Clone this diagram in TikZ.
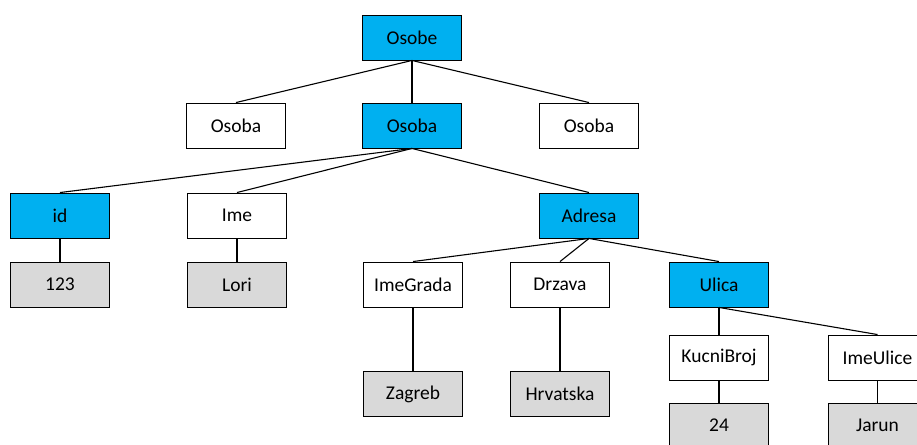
\documentclass[tikz,border=0pt]{standalone}
\usepackage{fontspec}
\setmainfont{Carlito}
\definecolor{plava}{HTML}{00B0F0}
\definecolor{siva}{HTML}{D9D9D9}

\begin{document}
\begin{tikzpicture}[x=1pt,y=-1pt,
	kutija/.style={draw,fill=white,minimum width=99pt,minimum height=45pt,inner sep=0pt,line width=0.9pt,font=\fontsize{19.5}{23}\selectfont},
	plavi/.style={kutija,fill=plava},
	sivi/.style={kutija,fill=siva},
	veza/.style={line width=1.1pt}]
			\clip (0,0) rectangle (917,444);
			%korijen
			\node[plavi] (osobe) at (412,37.5) {Osobe};
			\node[kutija] (osobaL) at (236,125.5) {Osoba};
			\node[plavi] (osobaM) at (412,125.5) {Osoba};
			\node[kutija] (osobaD) at (589,125.5) {Osoba};
			%elementi osobe
			\node[plavi] (id) at (60,215.5) {id};
			\node[kutija] (ime) at (237,215.5) {Ime};
			\node[plavi] (adresa) at (589,215.5) {Adresa};
			\node[sivi] (idVr) at (60,284.5) {123};
			\node[sivi] (imeVr) at (237,284.5) {Lori};
			%adresa
			\node[kutija] (grad) at (413,284.5) {ImeGrada};
			\node[kutija] (drzava) at (560,284.5) {Drzava};
			\node[plavi] (ulica) at (719,284.5) {Ulica};
			\node[sivi] (gradVr) at (413,394) {Zagreb};
			\node[sivi] (drzavaVr) at (560,394) {Hrvatska};
			%ulica
			\node[kutija] (broj) at (719,357.5) {KucniBroj};
			\node[kutija] (imeUl) at (877.5,357.5) {ImeUlice};
			\node[sivi] (brojVr) at (719,425.5) {24};
			\node[sivi] (imeUlVr) at (877.5,425.5) {Jarun};
			%veze
			\foreach \a/\b in {osobe/osobaL,osobe/osobaM,osobe/osobaD,osobaM/id,osobaM/ime,osobaM/adresa,
				id/idVr,ime/imeVr,adresa/grad,adresa/drzava,adresa/ulica,grad/gradVr,drzava/drzavaVr,
				ulica/broj,ulica/imeUl,broj/brojVr,imeUl/imeUlVr}
				\draw[veza] (\a.south)--(\b.north);
		\end{tikzpicture}
\end{document}
